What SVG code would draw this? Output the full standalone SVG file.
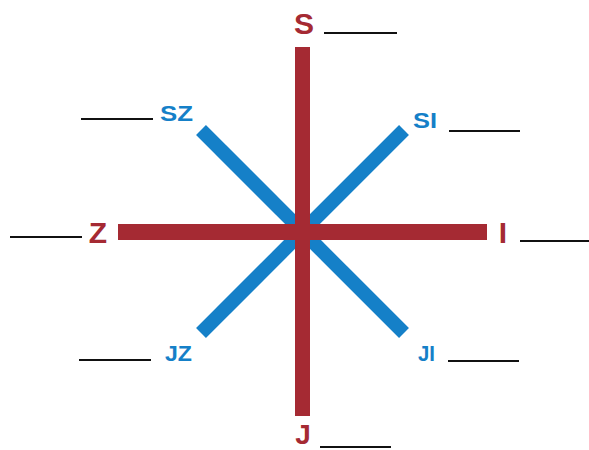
<svg xmlns="http://www.w3.org/2000/svg" width="589" height="450" viewBox="0 0 589 450">
<style>
.red{fill:#a52a33;font-family:"Liberation Sans",Arial,sans-serif;font-weight:bold;font-size:30px}
.blue{fill:#1580c8;font-family:"Liberation Sans",Arial,sans-serif;font-weight:bold;font-size:22px}
.blank{stroke:#111;stroke-width:2}
</style>
<rect width="589" height="450" fill="#fff"/>
<g id="connectors">
<line x1="201" y1="130" x2="404" y2="333" stroke="#1580c8" stroke-width="14"/>
<line x1="404" y1="130" x2="201" y2="333" stroke="#1580c8" stroke-width="14"/>
<rect x="295" y="47" width="15" height="369" fill="#a52a33"/>
<rect x="118" y="224" width="369" height="16" fill="#a52a33"/>
</g>
<g id="S"><text class="red" x="304" y="34" text-anchor="middle">S</text><line class="blank" x1="324" y1="33" x2="397" y2="33"/></g>
<g id="J"><text class="red" x="303" y="444" text-anchor="middle" style="font-size:28px">J</text><line class="blank" x1="320" y1="447" x2="391" y2="447"/></g>
<g id="Z"><text class="red" x="98" y="243" text-anchor="middle">Z</text><line class="blank" x1="10" y1="237" x2="82" y2="237"/></g>
<g id="I"><text class="red" x="503" y="243" text-anchor="middle">I</text><line class="blank" x1="520" y1="241" x2="589" y2="241"/></g>
<g id="SZ"><text class="blue" x="160" y="121" textLength="33" lengthAdjust="spacingAndGlyphs">SZ</text><line class="blank" x1="81" y1="119" x2="153" y2="119"/></g>
<g id="SI"><text class="blue" x="413" y="128" textLength="24" lengthAdjust="spacingAndGlyphs">SI</text><line class="blank" x1="449" y1="131" x2="520" y2="131"/></g>
<g id="JZ"><text class="blue" x="165" y="361" textLength="27" lengthAdjust="spacingAndGlyphs">JZ</text><line class="blank" x1="79" y1="360" x2="151" y2="360"/></g>
<g id="JI"><text class="blue" x="418" y="361" textLength="17" lengthAdjust="spacingAndGlyphs">JI</text><line class="blank" x1="448" y1="361" x2="519" y2="361"/></g>
</svg>
